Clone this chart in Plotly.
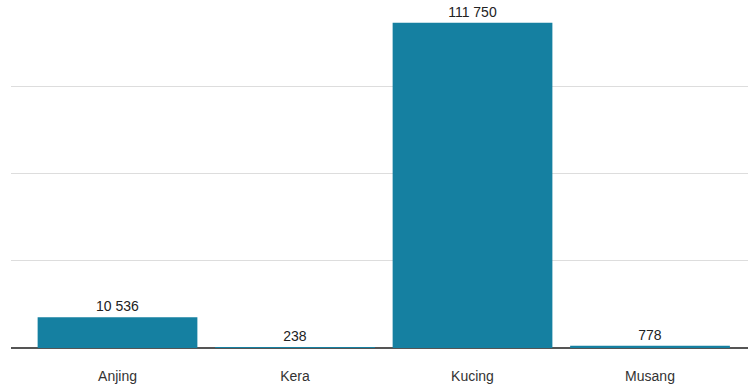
import plotly.graph_objects as go

categories = ["Anjing", "Kera", "Kucing", "Musang"]
values = [10536, 238, 111750, 778]
labels = ["10 536", "238", "111 750", "778"]

fig = go.Figure(go.Bar(
    x=list(range(len(categories))),
    y=values,
    text=labels,
    textposition="outside",
    cliponaxis=False,
    width=0.9,
    marker=dict(color="#1580a1", line=dict(width=0)),
    textfont=dict(family="Liberation Sans, Arial", size=14, color="#222222"),
))

fig.update_layout(
    width=748, height=388,
    margin=dict(l=11, r=0, t=0, b=40),
    paper_bgcolor="white", plot_bgcolor="white",
    showlegend=False,
    font=dict(family="Liberation Sans, Arial", size=14, color="#333333"),
    xaxis=dict(
        range=[-0.6, 3.552],
        tickmode="array",
        tickvals=list(range(len(categories))),
        ticktext=categories,
        showgrid=False, zeroline=False, showline=False,
        ticks="", ticklabelstandoff=18,
        tickfont=dict(size=14, color="#333333"),
    ),
    yaxis=dict(
        range=[0, 119600],
        dtick=30000,
        showticklabels=False,
        showgrid=True, gridcolor="#dddddd", gridwidth=1,
        zeroline=True, zerolinecolor="#555555", zerolinewidth=2,
        ticks="",
    ),
)

fig.write_html("out.html")
